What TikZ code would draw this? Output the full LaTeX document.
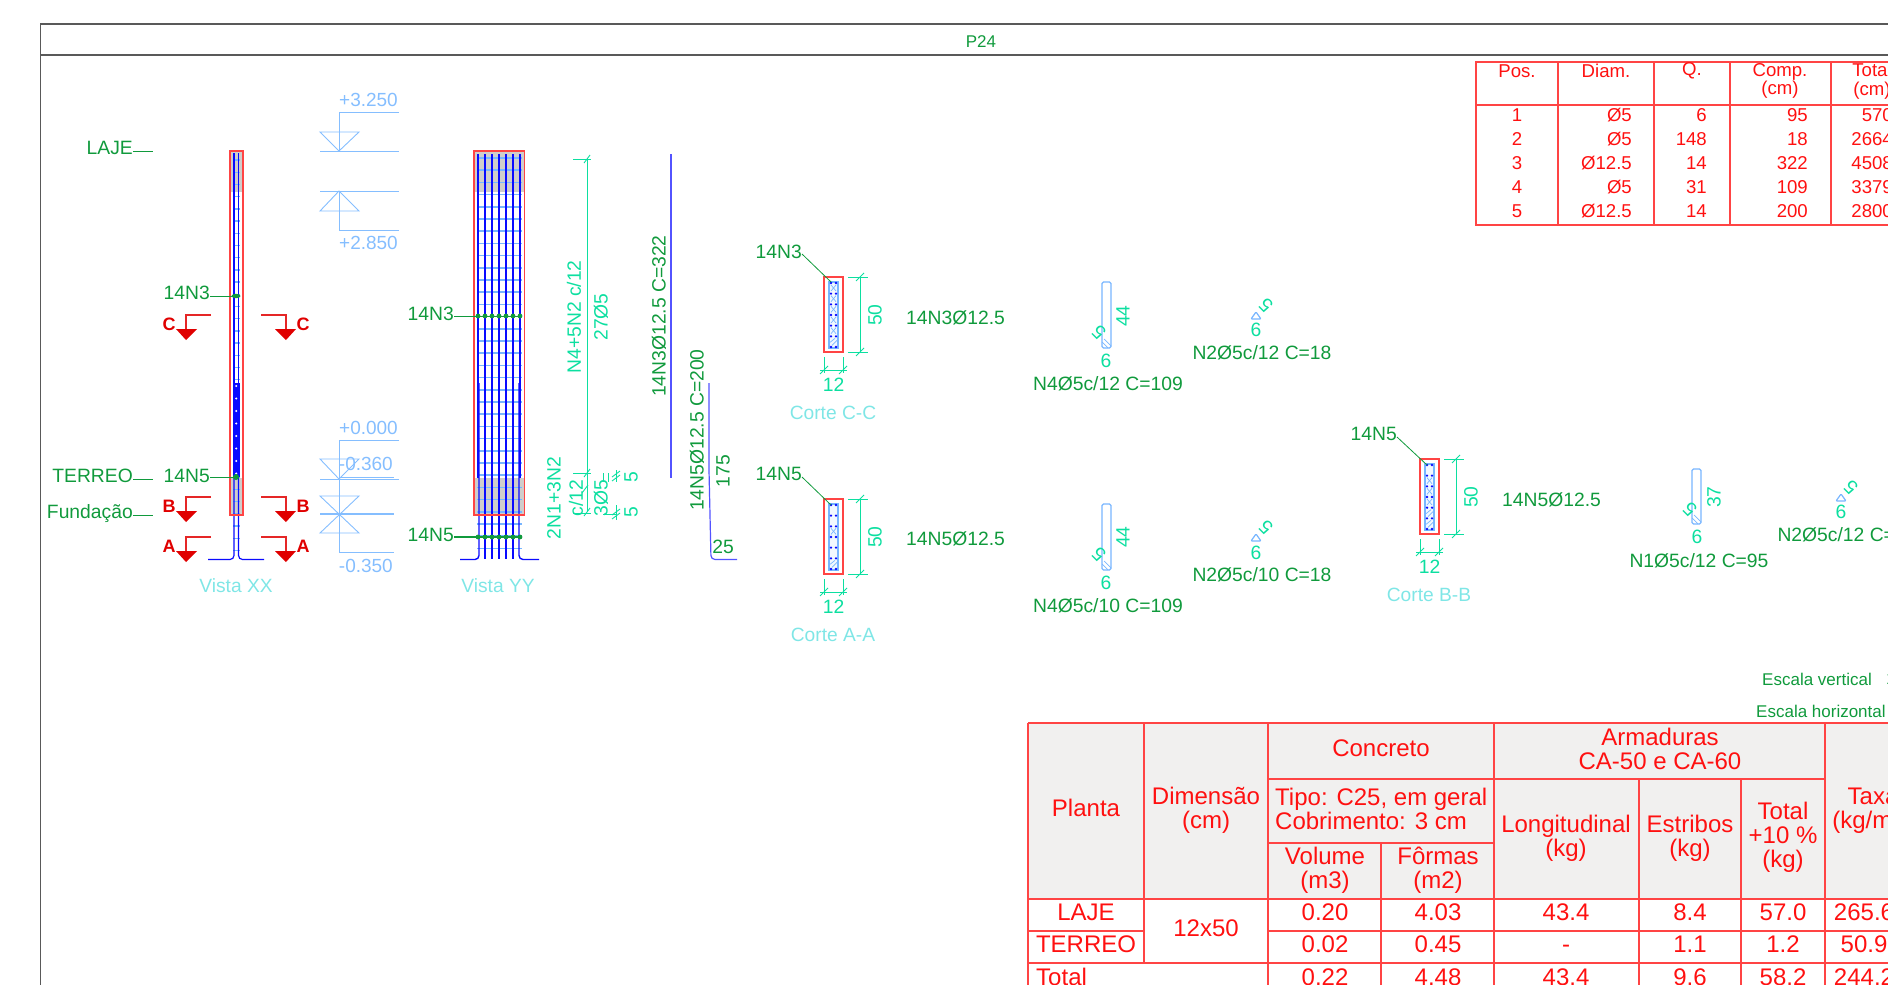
\documentclass[tikz,border=0pt]{standalone}
\usepackage{fontspec}
\setmainfont{Liberation Sans}
\usepackage{xcolor}
\usetikzlibrary{arrows.meta, positioning, calc}
\definecolor{labelgreen}{HTML}{109A3C}
\definecolor{dimteal}{HTML}{0CDFA0}
\definecolor{viewcyan}{HTML}{7FE6E6}
\definecolor{levelblue}{HTML}{85BEFF}
\definecolor{stirrup}{HTML}{78B6FF}
\definecolor{barblue}{HTML}{0A0AFF}
\definecolor{concreteline}{HTML}{FF4444}
\definecolor{cutred}{HTML}{E00000}
\definecolor{cellred}{HTML}{FF1010}
\definecolor{headfill}{HTML}{F1F0EF}
\definecolor{concretefill}{HTML}{CFCDCB}
\newcommand{\cadfont}[1]{\fontsize{#1}{#1}\selectfont}
% one section: left top, then cells with a cross and cells with a hatch
\newcommand{\sectionbox}[4]{
    \begin{scope}[shift={(#1,#2)}]
        \draw[concreteline, line width=1.5pt] (0,0) rectangle (19,75);
        \draw[stirrup, line width=1.2pt, fill=stirrup!10] (5,5) rectangle (14,71);
        \foreach \c in {#3} {
            \draw[stirrup, line width=0.7pt] (7,{8+10.67*\c}) -- (12,{14+10.67*\c});
            \draw[stirrup, line width=0.7pt] (7,{14+10.67*\c}) -- (12,{8+10.67*\c});
        }
        \foreach \c in {#4} {
            \draw[stirrup, line width=0.7pt] (6,{12+10.67*\c}) -- (11,{8+10.67*\c});
            \draw[stirrup, line width=0.7pt] (8,{15+10.67*\c}) -- (13,{10+10.67*\c});
        }
        \foreach \r in {0,...,6} {
            \fill[barblue] (7,{6+10.67*\r}) circle (1.3);
            \fill[barblue] (12,{6+10.67*\r}) circle (1.3);
        }
    \end{scope}
}
% bent stirrup with its hook hatch
\newcommand{\stirrupleg}[2]{
    \draw[stirrup, line width=1.3pt, rounded corners=1.5pt] (#1,#2) rectangle ++(9,{\legh});
    \draw[stirrup, line width=0.7pt] (#1,{#2+\legh-6}) -- ++(6,6);
    \draw[stirrup, line width=0.7pt] (#1+2,{#2+\legh-9}) -- ++(7,7);
}

\begin{document}
\begin{tikzpicture}[
    x=1pt, y=-1pt,
    barlabel/.style={inner sep=0pt, text=labelgreen, font=\cadfont{19.3}},
    dimtext/.style={inner sep=0pt, text=dimteal, font=\cadfont{19.3}},
    viewname/.style={inner sep=0pt, text=viewcyan, font=\cadfont{19.2}},
    leveltext/.style={inner sep=0pt, text=levelblue, font=\cadfont{19}},
    levelline/.style={levelblue, line width=0.9pt},
    leader/.style={labelgreen, line width=0.8pt},
    dimline/.style={dimteal, line width=0.9pt},
    cutline/.style={cutred!85!white, line width=1.1pt},
    cutname/.style={inner sep=0pt, text=cutred, font=\cadfont{18}\bfseries},
    smallcell/.style={inner sep=0pt, text=cellred, font=\cadfont{18.6}, align=center},
    bigcell/.style={inner sep=0pt, text=cellred, font=\cadfont{24}, align=center},
    gridline/.style={concreteline, line width=1.2pt},
]
    \useasboundingbox (0,0) rectangle (1888,985);
    \clip (0,0) rectangle (1888,985);

    % Frame
    \draw[black!65, line width=1.3pt] (40.5,985) -- (40.5,24) -- (1888,24);
    \draw[black!65, line width=1.3pt] (40.5,55) -- (1888,55);
    \node[barlabel, font=\cadfont{17}] (title) at (981,42) {P24};

    % Floor names
    \foreach \name/\txt/\yt/\yl in {laje/LAJE/148/151, terreo/TERREO/476/479, fund/Fundação/514/515} {
        \node[barlabel, anchor=east] (\name) at (133,\yt) {\txt};
        \draw[leader] (133,\yl) -- (153,\yl);
    }

    % Vista XX
    \fill[concretefill] (230,151) rectangle (243,192);
    \fill[concretefill] (230,478) rectangle (243,515);
    \foreach \y in {160,172.2,...,552} {
        \draw[stirrup, line width=1.4pt] (233,\y) -- (240,\y);
    }
    \draw[barblue, line width=1.4pt] (234,153) -- (234,383);
    \draw[barblue, line width=1.4pt] (238.5,153) -- (238.5,383);
    \fill[barblue] (233,383) rectangle (239.5,477);
    \foreach \y in {386,398.5,...,476} {
        \fill[white] (236.2,\y) circle (1.1);
    }
    \draw[barblue, line width=1.2pt, rounded corners=4pt] (208,559.5) -- (234,559.5) -- (234,477);
    \draw[barblue, line width=1.2pt, rounded corners=4pt] (264,559.5) -- (238.5,559.5) -- (238.5,477);
    \draw[concreteline, line width=1.1pt] (230,151) rectangle (243,515);
    \node[viewname] (vistaxx) at (236,586) {Vista XX};

    \node[barlabel, anchor=east] (xxn3) at (210,293) {14N3};
    \node[barlabel, anchor=east] (xxn5) at (210,476) {14N5};
    \coordinate (xxn3end) at (232,296);
    \coordinate (xxn5end) at (236,477);
    \draw[leader] (xxn3.east |- xxn3end) -- (xxn3end);
    \draw[leader] (xxn5.east |- xxn5end) -- (xxn5end);
    \fill[labelgreen] (236,296) ellipse (4.5 and 2.2);
    \fill[labelgreen] (xxn5end) circle (3);

    % Section marks
    \foreach \cut/\yy in {C/315, B/497, A/537} {
        \draw[cutline] (211,\yy) -- (186,\yy) -- (186,\yy+15);
        \draw[cutline] (261,\yy) -- (286,\yy) -- (286,\yy+15);
        \fill[cutred] (176,\yy+14) -- (197,\yy+14) -- (186,\yy+25) -- cycle;
        \fill[cutred] (275,\yy+14) -- (296,\yy+14) -- (286,\yy+25) -- cycle;
        \node[cutname] (cutl\cut) at (169,\yy+9) {\cut};
        \node[cutname] (cutr\cut) at (303,\yy+9) {\cut};
    }

    % Levels
    \draw[levelline] (399,112) -- (339,112) -- (339,151);
    \draw[levelline] (320,132) -- (359,132) -- (339,151) -- cycle;
    \draw[levelline] (320,151) -- (399,151);
    \draw[levelline] (320,191) -- (399,191);
    \draw[levelline] (320,211) -- (359,211) -- (339,191) -- cycle;
    \draw[levelline] (339,191) -- (339,230) -- (399,230);
    \draw[levelline] (399,440) -- (339,440) -- (339,552) -- (394,552);
    \draw[levelline] (320,459) -- (359,459) -- (339,479) -- cycle;
    \draw[levelline] (320,479) -- (399,479);
    \draw[levelline] (339,477) -- (394,477);
    \draw[levelline] (320,496) -- (359,496) -- (320,533) -- (359,533) -- cycle;
    \draw[levelline, line width=1.3pt] (320,514) -- (394,514);
    \node[leveltext, anchor=east] (lv1) at (398,100) {+3.250};
    \node[leveltext, anchor=east] (lv2) at (398,243) {+2.850};
    \node[leveltext, anchor=east] (lv3) at (398,428) {+0.000};
    \node[leveltext, anchor=east] (lv4) at (393,464) {-0.360};
    \node[leveltext, anchor=east] (lv5) at (393,566) {-0.350};

    % Vista YY
    \fill[concretefill] (474,151) rectangle (524.5,192);
    \fill[concretefill] (474,478) rectangle (524.5,515);
    \foreach \y in {158,170.2,...,552} {
        \draw[stirrup, line width=1.5pt] (477,\y) -- (521.5,\y);
    }
    \foreach \x in {478,485,492,499,506,513,520} {
        \draw[barblue, line width=1.1pt] (\x,154) -- (\x,478);
    }
    \foreach \x in {485,492,499,506,513} {
        \draw[barblue, line width=1.1pt] (\x,383) -- (\x,559);
    }
    \draw[barblue, line width=1.4pt, rounded corners=4pt] (460,559.5) -- (479,559.5) -- (479,383);
    \draw[barblue, line width=1.4pt, rounded corners=4pt] (539,559.5) -- (519,559.5) -- (519,383);
    \draw[concreteline, line width=1.2pt] (474,151) rectangle (524.5,515);
    \node[viewname] (vistayy) at (498,586) {Vista YY};

    \node[barlabel, anchor=east] (yyn3) at (454,313.5) {14N3};
    \node[barlabel, anchor=east] (yyn5) at (454,535) {14N5};
    \coordinate (yyn3end) at (520,316);
    \coordinate (yyn5end) at (520,537);
    \draw[leader] (yyn3.east |- yyn3end) -- (yyn3end);
    \draw[leader, line width=1.2pt] (yyn5.east |- yyn5end) -- (yyn5end);
    \foreach \x in {478,485,492,499,506,513,520} {
        \fill[labelgreen] (\x,316) circle (2.4);
        \fill[labelgreen] (\x,537) circle (2.4);
    }

    % Stirrup distribution
    \draw[dimline] (587,159) -- (587,512);
    \draw[dimline] (573,159) -- (591,159);
    \draw[dimline] (573,473) -- (591,473);
    \draw[dimline] (573,513) -- (591,513);
    \foreach \y in {159,473,512} {
        \draw[dimline] (587,\y) +(-3,4) -- +(3,-4);
    }
    \draw[dimline] (585,489) +(-3,4) -- +(3,-4);
    \draw[dimline] (603,473) -- (603,482);
    \draw[dimline] (608,473) -- (608,482);
    \draw[dimline] (603,514) -- (617,514);
    \draw[dimline] (616,470) -- (616,482);
    \draw[dimline] (616,505) -- (616,520);
    \foreach \y in {474,478,512,516} {
        \draw[dimline] (616,\y) +(-4,3) -- +(4,-3);
    }
    \node[dimtext, rotate=90] (distup) at (574,317) {N4+5N2 c/12};
    \node[dimtext, rotate=90] (distupn) at (601,317) {27Ø5};
    \node[dimtext, rotate=90] (distlow) at (554,498) {2N1+3N2};
    \node[dimtext, rotate=90] (distlowc) at (576,498) {c/12};
    \node[dimtext, rotate=90] (distlown) at (601,498) {3Ø5};
    \node[dimtext, rotate=90] (five1) at (631,477) {5};
    \node[dimtext, rotate=90] (five2) at (631,512) {5};

    % Long bars
    \draw[barblue!70!white, line width=1.2pt] (671,154) -- (671,478);
    \draw[barblue!70!white, line width=1.2pt, rounded corners=4pt] (709,383) -- (709,470) -- (711,559.5) -- (737,559.5);
    \node[barlabel, rotate=90] (barn3) at (659,316) {14N3Ø12.5 C=322};
    \node[barlabel, rotate=90] (barn5) at (697,430) {14N5Ø12.5 C=200};
    \node[barlabel, rotate=90] (len175) at (723,471) {175};
    \node[barlabel] (len25) at (723,547) {25};

    % Sections
    \sectionbox{824}{277}{0,1,2,3,4}{5}
    \sectionbox{824}{499}{2}{5}
    \sectionbox{1420}{459}{1,2,3}{4,5}
    \foreach \sid/\xx/\yy/\name/\txt/\lx/\ly in {cc/824/277/C-C/14N3Ø12.5/906/318, aa/824/499/A-A/14N5Ø12.5/906/539, bb/1420/459/B-B/14N5Ø12.5/1502/500} {
        \draw[dimline] (\xx+24,\yy) -- (\xx+44,\yy);
        \draw[dimline] (\xx+24,\yy+75) -- (\xx+44,\yy+75);
        \draw[dimline] (\xx+36,\yy) -- (\xx+36,\yy+75);
        \draw[dimline] (\xx,\yy+80) -- (\xx,\yy+96);
        \draw[dimline] (\xx+19,\yy+80) -- (\xx+19,\yy+96);
        \draw[dimline] (\xx-4,\yy+93) -- (\xx+23,\yy+93);
        \foreach \tx/\ty in {\xx+36/\yy, \xx+36/\yy+75, \xx/\yy+93, \xx+19/\yy+93} {
            \draw[dimline] (\tx,\ty) +(-4,4) -- +(4,-4);
        }
        \node[dimtext, rotate=90] (dim50\sid) at (\xx+51,\yy+38) {50};
        \node[dimtext] (dim12\sid) at (\xx+9.5,\yy+108) {12};
        \node[viewname] (corte\sid) at (\xx+9,\yy+136) {Corte \name};
        \node[barlabel, anchor=west] (name\sid) at (\lx,\ly) {\txt};
    }
    \node[barlabel, anchor=east] (cutn3) at (802,252) {14N3};
    \node[barlabel, anchor=east] (cutn5a) at (802,474) {14N5};
    \node[barlabel, anchor=east] (cutn5b) at (1397,434) {14N5};
    \coordinate (cutn3end) at (831,282);
    \coordinate (cutn5aend) at (831,505);
    \coordinate (cutn5bend) at (1427,465);
    \draw[leader] (cutn3.east) ++(0,2) -- (cutn3end);
    \draw[leader] (cutn5a.east) ++(0,3) -- (cutn5aend);
    \draw[leader] (cutn5b.east) ++(0,3) -- (cutn5bend);

    % Stirrup shapes
    \def\legh{66}
    \stirrupleg{1102}{282}
    \stirrupleg{1102}{504}
    \def\legh{55}
    \stirrupleg{1692}{469}
    \foreach \sid/\xx/\ya/\yb/\yc/\yd/\leg/\txt/\lx in {
        up/1106/316/332/361/384/44/N4Ø5c\slash 12 C=109/1108,
        low/1106/537/554/583/606/44/N4Ø5c\slash 10 C=109/1108,
        one/1697/497/509/537/561/37/N1Ø5c\slash 12 C=95/1699} {
        \node[dimtext, rotate=90] (leg\sid) at (\xx+17,\ya) {\leg};
        \node[dimtext, rotate=135] (hook\sid) at (\xx-7,\yb) {5};
        \node[dimtext] (base\sid) at (\xx,\yc) {6};
        \node[barlabel] (shape\sid) at (\lx,\yd) {\txt};
    }
    \foreach \sid/\xx/\ya/\yb/\yc/\yd/\txt/\lx in {
        tup/1256/312/305/330/353/N2Ø5c\slash 12 C=18/1262,
        tlow/1256/534/527/553/575/N2Ø5c\slash 10 C=18/1262,
        tone/1841/494/487/512/535/N2Ø5c\slash 12 C=18/1847} {
        \draw[stirrup, line width=1.2pt, rounded corners=1pt] (\xx,\ya) -- (\xx+5,\ya+7) -- (\xx-5,\ya+7) -- cycle;
        \node[dimtext, rotate=135] (hook\sid) at (\xx+10,\yb) {5};
        \node[dimtext] (base\sid) at (\xx,\yc) {6};
        \node[barlabel] (shape\sid) at (\lx,\yd) {\txt};
    }

    % Scales
    \node[barlabel, anchor=west, font=\cadfont{17}] (scalev) at (1762,679) {Escala vertical};
    \node[barlabel, anchor=west, font=\cadfont{17}] (scaleh) at (1756,711) {Escala horizontal};
    \node[barlabel, anchor=west, font=\cadfont{17}] (scalevn) at (1886,679) {1};

    % Bar list
    \draw[gridline] (1476,62) rectangle (1900,225);
    \draw[gridline] (1476,105) -- (1888,105);
    \foreach \x in {1558,1654,1730,1831} {
        \draw[gridline] (\x,62) -- (\x,225);
    }
    \node[smallcell] (hpos) at (1517,71) {Pos.};
    \node[smallcell] (hdia) at (1606,71) {Diam.};
    \node[smallcell] (hqty) at (1692,71) {Q.};
    \node[smallcell] (hcom) at (1780,81) {Comp.\\(cm)};
    \node[smallcell] (htot) at (1872,81) {Total\\(cm)};
    \foreach \ps/\dm/\qt/\cp/\tl/\y in {1/Ø5/6/95/570/115, 2/Ø5/148/18/2664/139, 3/Ø12.5/14/322/4508/163, 4/Ø5/31/109/3379/187, 5/Ø12.5/14/200/2800/211} {
        \node[smallcell] (pos\ps) at (1517,\y) {\ps};
        \node[smallcell, anchor=east] (dia\ps) at (1632,\y) {\dm};
        \node[smallcell, anchor=east] (qty\ps) at (1707,\y) {\qt};
        \node[smallcell, anchor=east] (com\ps) at (1808,\y) {\cp};
        \node[smallcell, anchor=east] (tot\ps) at (1893,\y) {\tl};
    }

    % Summary table
    \fill[headfill] (1028,723) rectangle (1888,899);
    \draw[gridline] (1028,723) -- (1888,723);
    \draw[gridline] (1268,779) -- (1825,779);
    \draw[gridline] (1268,843) -- (1494,843);
    \draw[gridline] (1028,899) -- (1888,899);
    \draw[gridline] (1028,931) -- (1144,931);
    \draw[gridline] (1268,931) -- (1888,931);
    \draw[gridline] (1028,963) -- (1888,963);
    \draw[gridline] (1028,723) -- (1028,985);
    \draw[gridline] (1144,723) -- (1144,963);
    \draw[gridline] (1268,723) -- (1268,985);
    \draw[gridline] (1381,843) -- (1381,985);
    \draw[gridline] (1494,723) -- (1494,985);
    \draw[gridline] (1639,779) -- (1639,985);
    \draw[gridline] (1741,779) -- (1741,985);
    \draw[gridline] (1825,723) -- (1825,985);

    \node[bigcell] (planta) at (1086,808) {Planta};
    \node[bigcell] (dimensao) at (1206,810) {Dimensão\\(cm)};
    \node[bigcell] (concreto) at (1381,748) {Concreto};
    \node[bigcell] (armaduras) at (1660,749) {Armaduras\\CA-50 e CA-60};
    \node[bigcell, align=left, anchor=west] (tipo) at (1275,808.5) {Tipo: C25, em geral\\Cobrimento: 3 cm};
    \node[bigcell] (volume) at (1325,870) {Volume\\(m3)};
    \node[bigcell] (formas) at (1438,870) {Fôrmas\\(m2)};
    \node[bigcell] (longitudinal) at (1566,838) {Longitudinal\\(kg)};
    \node[bigcell] (estribos) at (1690,838) {Estribos\\(kg)};
    \node[bigcell] (totalkg) at (1783,837) {Total\\+10 \%\\(kg)};
    \node[bigcell] (taxa) at (1873,811) {Taxa\\(kg/m3)};

    \node[bigcell] (rowlaje) at (1086,912) {LAJE};
    \node[bigcell] (rowterreo) at (1086,944) {TERREO};
    \node[bigcell] (rowdim) at (1206,928) {12x50};
    \node[bigcell, anchor=west] (rowtotal) at (1036,977) {Total};
    \foreach \row/\y/\vo/\fo/\lo/\es/\tk/\ra in {a/912/0.20/4.03/43.4/8.4/57.0/265.6, b/944/0.02/0.45/-/1.1/1.2/50.9, c/977/0.22/4.48/43.4/9.6/58.2/244.2} {
        \node[bigcell] (vol\row) at (1325,\y) {\vo};
        \node[bigcell] (for\row) at (1438,\y) {\fo};
        \node[bigcell] (lon\row) at (1566,\y) {\vphantom{0}\lo};
        \node[bigcell] (est\row) at (1690,\y) {\es};
        \node[bigcell] (tkg\row) at (1783,\y) {\tk};
        \node[bigcell] (rate\row) at (1864,\y) {\ra};
    }
\end{tikzpicture}
\end{document}
